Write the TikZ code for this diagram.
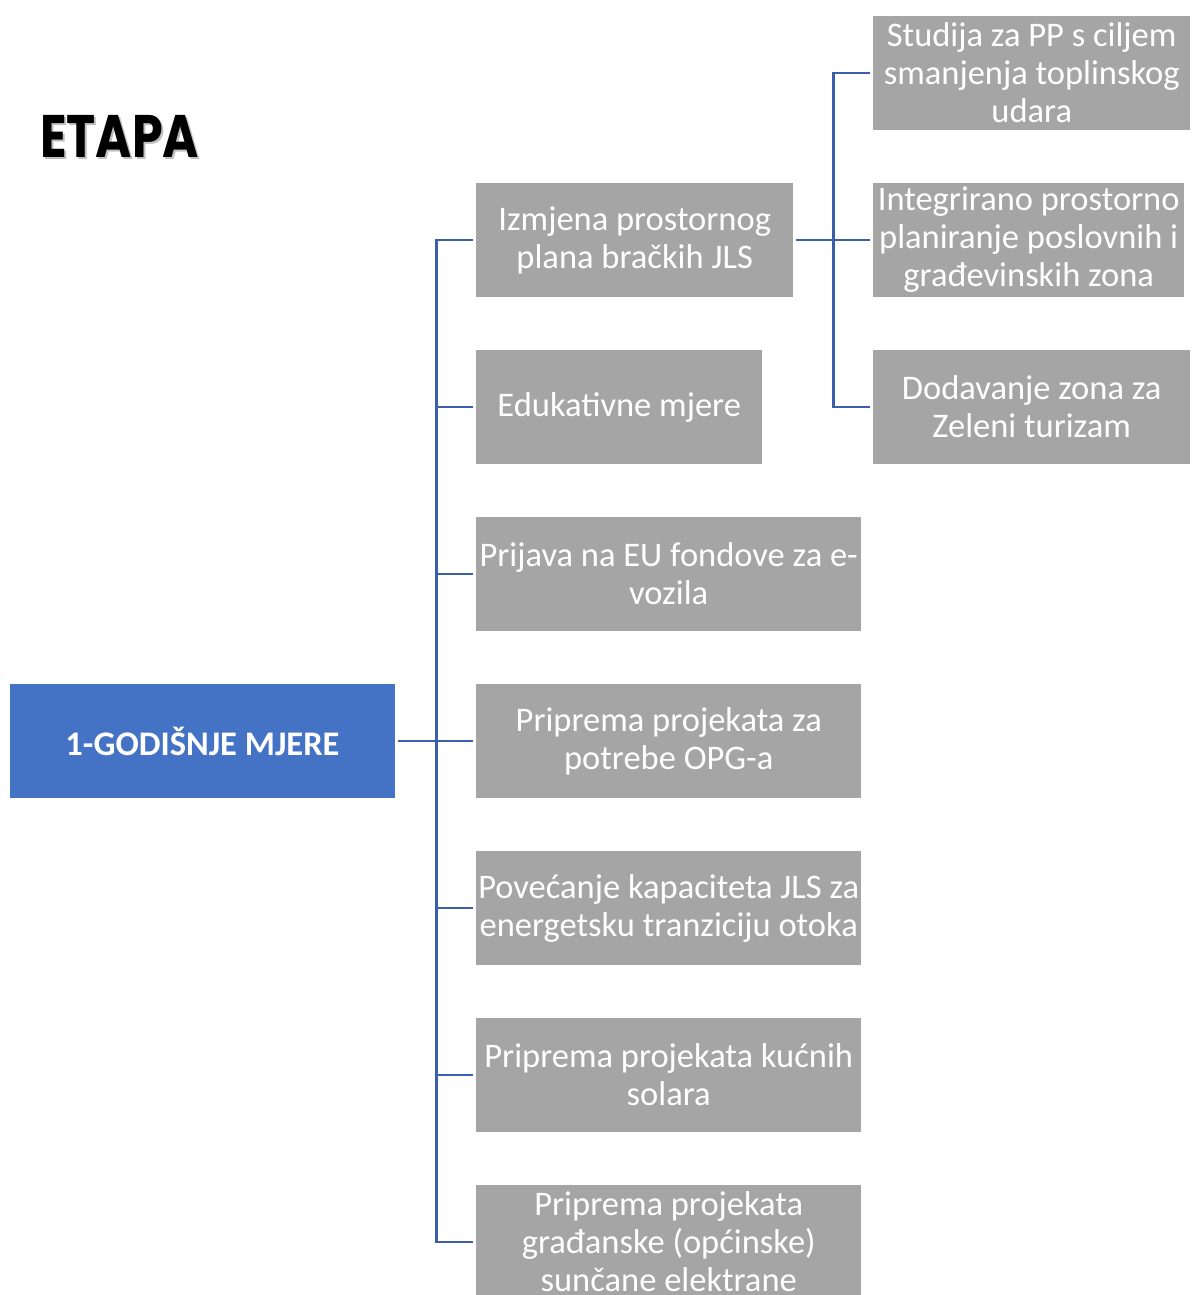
\documentclass[tikz,border=0pt]{standalone}
\usepackage{fontspec}
\setmainfont{Carlito}
\newfontfamily\titlefont[FakeStretch=0.82]{Poppins}
\usetikzlibrary{positioning}
\definecolor{colorRoot}{HTML}{4472C4}
\definecolor{colorBox}{HTML}{A5A5A5}
\definecolor{colorLink}{HTML}{3C5FA9}

\begin{document}
\begin{tikzpicture}[
    x=1pt, y=-1pt,
    mjbox/.style={
      rectangle, fill=colorBox, draw=none,
      minimum height=114pt, inner xsep=1pt, inner ysep=0pt,
      align=center, text=white,
      font=\fontsize{34.5}{38}\selectfont
    },
    rootbox/.style={
      rectangle, fill=colorRoot, draw=none,
      minimum width=385pt, minimum height=114pt,
      text=white, font=\fontsize{34.5}{38}\selectfont\bfseries
    },
    link/.style={line width=2.6pt, draw=colorLink, shorten <=3pt, shorten >=3pt}
  ]
    \useasboundingbox (0,0) rectangle (1191,1295);

    % title
    \node[anchor=west, inner sep=0pt, text=black!25, font=\titlefont\fontsize{60}{64}\selectfont\bfseries] (etapashadow) at (42,138.5) {ETAPA};
    \node[anchor=west, inner sep=0pt, font=\titlefont\fontsize{60}{64}\selectfont\bfseries] (etapa) at (40,136.5) {ETAPA};

    % root
    \node[rootbox] (root) at (202.5,741) {1-GODIŠNJE MJERE};

    % first level
    \node[mjbox, anchor=west, minimum width=317pt] (izmjena) at (476,240) {Izmjena prostornog\\plana bračkih JLS};
    \node[mjbox, anchor=west, minimum width=286pt] (edu) at (476,407) {Edukativne mjere};
    \node[mjbox, anchor=west, minimum width=385pt] (eufond) at (476,574) {Prijava na EU fondove za e-\\vozila};
    \node[mjbox, anchor=west, minimum width=385pt] (opg) at (476,741) {Priprema projekata za\\potrebe OPG-a};
    \node[mjbox, anchor=west, minimum width=385pt] (kapacitet) at (476,908) {Povećanje kapaciteta JLS za\\energetsku tranziciju otoka};
    \node[mjbox, anchor=west, minimum width=385pt] (solari) at (476,1075) {Priprema projekata kućnih\\solara};
    \node[mjbox, anchor=west, minimum width=385pt] (elektrana) at (476,1242) {Priprema projekata\\građanske (općinske)\\sunčane elektrane};

    % second level
    \node[mjbox, anchor=west, minimum width=317pt] (studija) at (873,73) {Studija za PP s ciljem\\smanjenja toplinskog\\udara};
    \node[mjbox, anchor=west, minimum width=311pt] (zone) at (873,240) {Integrirano prostorno\\planiranje poslovnih i\\građevinskih zona};
    \node[mjbox, anchor=west, minimum width=317pt] (turizam) at (873,407) {Dodavanje zona za\\Zeleni turizam};

    % connectors
    \foreach \child in {izmjena,edu,eufond,opg,kapacitet,solari,elektrana}
      \draw[link] (root.east) -- ++(41,0) |- (\child.west);
    \foreach \child in {studija,zone,turizam}
      \draw[link] (izmjena.east) -- ++(40,0) |- (\child.west);
  \end{tikzpicture}
\end{document}
